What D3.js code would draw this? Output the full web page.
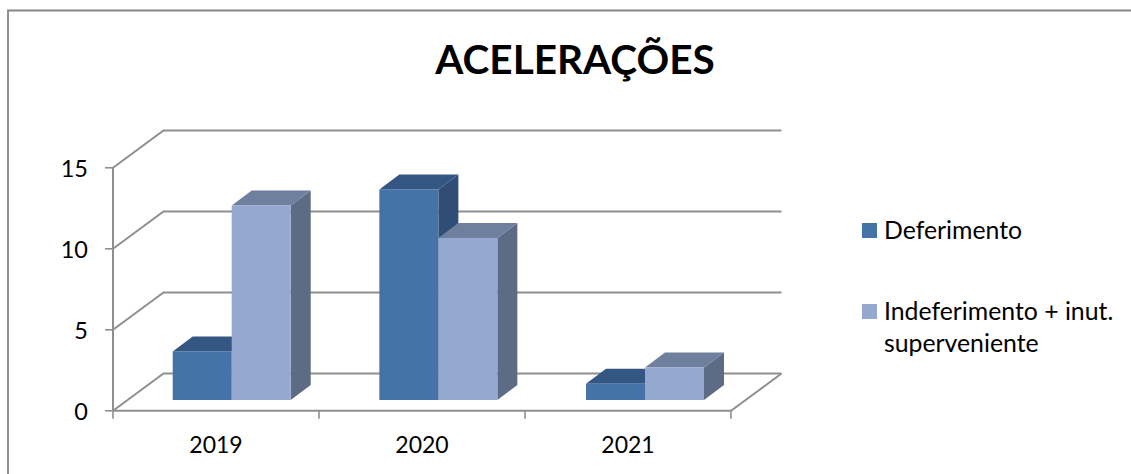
<!DOCTYPE html>
<html>
<head>
<meta charset="utf-8">
<script src="https://cdn.jsdelivr.net/npm/d3@7/dist/d3.min.js"></script>
<style>
html,body{margin:0;padding:0;background:#fff;}
text{font-family:Lato,"Open Sans",sans-serif;fill:#000;}
</style>
</head>
<body>
<div id="chart"></div>
<script>
const title = "ACELERAÇÕES";
const categories = ["2019", "2020", "2021"];
const seriesNames = ["Deferimento", "Indeferimento + inut. superveniente"];
const deferimento = [3, 13, 1];
const indeferimento = [12, 10, 2];
const yTicks = [0, 5, 10, 15];

const width = 1131, height = 474;
const svg = d3.select("#chart").append("svg")
  .attr("width", width).attr("height", height)
  .style("display", "block");

// Chart frame: only top and left edges are inside the visible area
svg.append("path")
  .attr("d", "M8,474V10.5H1131")
  .attr("fill", "none").attr("stroke", "#868686").attr("stroke-width", 1.8);

// Oblique projection: depth of the walls and of each bar
const wallDepth = {dx: 50.5, dy: -37.3};
const barDepth = {dx: 20, dy: -15};
const barBaseY = 400;

const x = d3.scaleBand().domain(categories).range([113, 731]);
const y = d3.scaleLinear().domain([0, 15]).range([410.8, 167.8]);
const unit = y(0) - y(1);
// Bars sit on the floor, slightly inset from the front axis
const barX = d3.scaleBand().domain(categories).range([172.7, 172.7 + 3 * 206.65]);
const barGroup = d3.scaleBand().domain(d3.range(2)).range([0, 118]);

const gridColor = "#8f8f8f";
const axisLine = {fill: "none", stroke: gridColor, "stroke-width": 2};
const applyAttrs = (sel, attrs) => { Object.entries(attrs).forEach(([k, v]) => sel.attr(k, v)); return sel; };

// Back wall gridlines with their diagonal run to the front axis
const grid = svg.append("g");
yTicks.forEach(t => {
  const y0 = y(t);
  const xFront = x.range()[0];
  applyAttrs(grid.append("path"), axisLine).attr("d",
    `M${xFront},${y0}L${xFront + wallDepth.dx},${y0 + wallDepth.dy}H${x.range()[1] + wallDepth.dx}`);
});
// Right edge of the floor
applyAttrs(grid.append("path"), axisLine).attr("d",
  `M${x.range()[1]},${y(0)}L${x.range()[1] + wallDepth.dx},${y(0) + wallDepth.dy}`);

// Front value axis and category axis
const yAxis = svg.append("g");
applyAttrs(yAxis.append("path"), axisLine).attr("d", `M${x.range()[0]},${y(0)}V${y(15)}`);
yAxis.selectAll("line").data(yTicks).join("line")
  .attr("x1", x.range()[0] - 8).attr("x2", x.range()[0])
  .attr("y1", d => y(d)).attr("y2", d => y(d))
  .attr("stroke", gridColor).attr("stroke-width", 1.6);
yAxis.selectAll("text").data(yTicks).join("text")
  .attr("x", 88).attr("y", d => y(d) + 9)
  .attr("text-anchor", "end").attr("font-size", 23.5)
  .text(d => d);

const xAxis = svg.append("g");
applyAttrs(xAxis.append("path"), axisLine).attr("d", `M${x.range()[0]},${y(0)}H${x.range()[1]}`);
const xTickPos = [...categories.map(c => x(c)), x.range()[1]];
xAxis.selectAll("line").data(xTickPos).join("line")
  .attr("x1", d => d).attr("x2", d => d)
  .attr("y1", y(0)).attr("y2", y(0) + 8)
  .attr("stroke", gridColor).attr("stroke-width", 1.6);
xAxis.selectAll("text").data(categories).join("text")
  .attr("x", d => x(d) + x.bandwidth() / 2).attr("y", 453)
  .attr("text-anchor", "middle").attr("font-size", 23)
  .text(d => d);

// 3-D bars: side and top faces first, then the front face
const palette = [
  {front: "#4572a7", top: "#345682", side: "#2f4d75"},
  {front: "#95a9d0", top: "#6f7f9e", side: "#5e6b84"}
];
const seriesValues = [deferimento, indeferimento];
const bars = svg.append("g");
categories.forEach((cat, ci) => {
  seriesValues.forEach((vals, si) => {
    const v = vals[ci];
    const x0 = barX(cat) + barGroup(si);
    const x1 = x0 + barGroup.bandwidth();
    const yTop = barBaseY - v * unit;
    const c = palette[si];
    const g = bars.append("g");
    g.append("path").attr("fill", c.side).attr("d",
      `M${x1},${barBaseY}L${x1 + barDepth.dx},${barBaseY + barDepth.dy}V${yTop + barDepth.dy}L${x1},${yTop}Z`);
    g.append("path").attr("fill", c.top).attr("d",
      `M${x0},${yTop}L${x0 + barDepth.dx},${yTop + barDepth.dy}H${x1 + barDepth.dx}L${x1},${yTop}Z`);
    g.append("rect").attr("x", x0).attr("y", yTop)
      .attr("width", x1 - x0).attr("height", barBaseY - yTop)
      .attr("fill", c.front);
  });
});

// Legend
const legend = svg.append("g");
const legendRows = [
  {swatchY: 223, lines: [seriesNames[0]], textY: [239]},
  {swatchY: 304, lines: ["Indeferimento + inut.", "superveniente"], textY: [319.5, 351.5]}
];
legendRows.forEach((row, i) => {
  legend.append("rect").attr("x", 862).attr("y", row.swatchY)
    .attr("width", 15).attr("height", 15).attr("fill", palette[i].front);
  row.lines.forEach((line, j) => {
    legend.append("text").attr("x", 884).attr("y", row.textY[j])
      .attr("font-size", 24.8).text(line);
  });
});

// Title
svg.append("text").attr("x", 575).attr("y", 73.5)
  .attr("text-anchor", "middle").attr("font-size", 40.5)
  .attr("font-weight", 700).text(title);
</script>
</body>
</html>
